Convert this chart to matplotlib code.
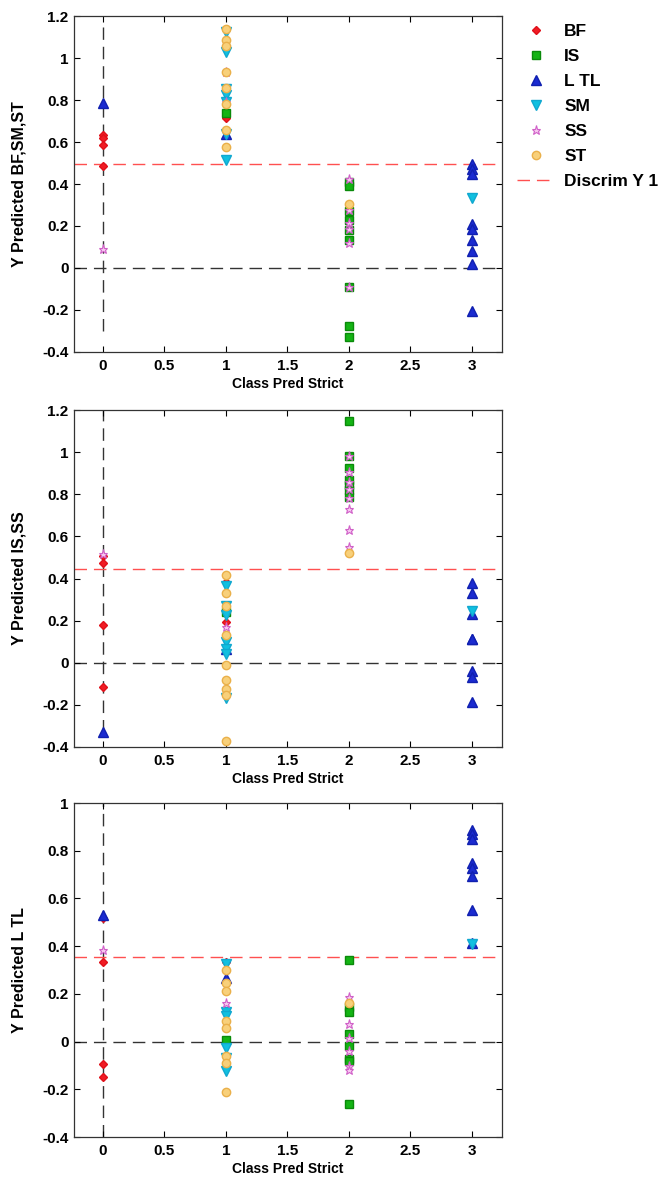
import matplotlib
matplotlib.use("Agg")
import matplotlib.pyplot as plt

plt.rcParams['font.family'] = ['Liberation Sans', 'DejaVu Sans']
plt.rcParams['font.weight'] = 'bold'

classes = ["BF", "IS", "LTL", "SM", "SS", "ST"]
legend_names = ["BF", "IS", "L TL", "SM", "SS", "ST"]

# panel 1: Y Predicted BF,SM,ST  -> {class: (x list, y list)}
p1 = {
    "BF": ([0, 0, 0, 0, 1], [0.632, 0.621, 0.585, 0.488, 0.716]),
    "IS": ([1, 2, 2, 2, 2, 2, 2, 2, 2, 2],
           [0.738, 0.41, 0.389, 0.271, 0.227, 0.18, 0.132, -0.09, -0.278, -0.329]),
    "LTL": ([0, 1, 3, 3, 3, 3, 3, 3, 3, 3, 3],
            [0.787, 0.64, 0.497, 0.473, 0.449, 0.211, 0.187, 0.135, 0.081, 0.021, -0.205]),
    "SM": ([1, 1, 1, 1, 1, 1, 1, 3],
           [1.124, 1.029, 0.854, 0.822, 0.79, 0.64, 0.513, 0.335]),
    "SS": ([0, 1, 1, 2, 2, 2, 2, 2, 2],
           [0.092, 0.933, 0.79, 0.425, 0.275, 0.214, 0.187, 0.119, -0.09]),
    "ST": ([1, 1, 1, 1, 1, 1, 1, 1, 2],
           [1.14, 1.087, 1.057, 0.933, 0.857, 0.783, 0.659, 0.575, 0.306]),
}

# panel 2: Y Predicted IS,SS
p2 = {
    "BF": ([0, 0, 0, 0, 1, 1], [0.508, 0.475, 0.178, -0.117, 0.384, 0.194]),
    "IS": ([1, 2, 2, 2, 2, 2, 2, 2],
           [0.241, 1.149, 0.984, 0.927, 0.868, 0.844, 0.82, 0.789]),
    "LTL": ([0, 1, 3, 3, 3, 3, 3, 3, 3, 3],
            [-0.33, 0.067, 0.381, 0.333, 0.233, 0.114, 0.111, -0.037, -0.068, -0.187]),
    "SM": ([1, 1, 1, 1, 1, 1, 1, 3],
           [0.365, 0.27, 0.225, 0.098, 0.067, 0.043, -0.168, 0.244]),
    "SS": ([0, 1, 2, 2, 2, 2, 2, 2, 2, 2],
           [0.517, 0.17, 0.984, 0.905, 0.86, 0.825, 0.781, 0.73, 0.63, 0.551]),
    "ST": ([1, 1, 1, 1, 1, 1, 1, 1, 1, 2],
           [0.416, 0.332, 0.27, 0.13, -0.01, -0.084, -0.127, -0.155, -0.37, 0.521]),
}

# panel 3: Y Predicted LTL
p3 = {
    "BF": ([0, 0, 0, 0, 1, 1], [0.52, 0.334, -0.095, -0.147, 0.335, 0.0]),
    "IS": ([1, 2, 2, 2, 2, 2, 2, 2, 2],
           [0.006, 0.341, 0.145, 0.126, 0.031, -0.018, -0.074, -0.081, -0.263]),
    "LTL": ([0, 1, 3, 3, 3, 3, 3, 3, 3, 3],
            [0.529, 0.268, 0.885, 0.869, 0.848, 0.75, 0.729, 0.694, 0.55, 0.415]),
    "SM": ([1, 1, 1, 1, 1, 1, 3],
           [0.324, 0.122, 0.108, -0.025, -0.067, -0.123, 0.41]),
    "SS": ([0, 1, 2, 2, 2, 2, 2, 2],
           [0.383, 0.163, 0.187, 0.073, 0.017, -0.039, -0.102, -0.12]),
    "ST": ([1, 1, 1, 1, 1, 1, 1, 1, 2],
           [0.299, 0.247, 0.212, 0.087, 0.056, -0.06, -0.088, -0.21, 0.163]),
}

panels = [p1, p2, p3]
ylabels = ["Y Predicted BF,SM,ST", "Y Predicted IS,SS", "Y Predicted L TL"]
discrim = [0.495, 0.445, 0.354]
ylims = [(-0.4, 1.2), (-0.4, 1.2), (-0.4, 1.0)]
yticks = [[-0.4, -0.2, 0, 0.2, 0.4, 0.6, 0.8, 1, 1.2],
          [-0.4, -0.2, 0, 0.2, 0.4, 0.6, 0.8, 1, 1.2],
          [-0.4, -0.2, 0, 0.2, 0.4, 0.6, 0.8, 1]]
vline_span = [(1.15, -0.3), (1.2, -0.33), (1.0, -0.4)]
xticks = [0, 0.5, 1, 1.5, 2, 2.5, 3]
xticklabels = ["0", "0.5", "1", "1.5", "2", "2.5", "3"]

styles = {
    "BF": dict(marker="D", ms=4.5, mfc="#f01c24", mec="#e0101a"),
    "IS": dict(marker="s", ms=5.5, mfc="#14b414", mec="#0a8a0a"),
    "LTL": dict(marker="^", ms=6.5, mfc="#1b2bd0", mec="#1020b0"),
    "SM": dict(marker="v", ms=6.5, mfc="#10c0e0", mec="#10a8d0"),
    "SS": dict(marker="*", ms=6.5, mfc="#f7c8f0", mec="#d060c8", mew=0.8),
    "ST": dict(marker="o", ms=6, mfc="#f8d07a", mec="#eab04a"),
}

fig = plt.figure(figsize=(6.67, 11.78), dpi=100)
boxes = [[0.111, 0.7012, 0.642, 0.2852],
         [0.111, 0.3659, 0.642, 0.2860],
         [0.111, 0.0348, 0.642, 0.2835]]

for i, data in enumerate(panels):
    ax = fig.add_axes(boxes[i])
    lo, hi = ylims[i]
    top, bot = vline_span[i]
    ax.plot([0, 0], [bot, top], color="#333333", lw=1, dashes=(9, 5), zorder=1)
    ax.axhline(0, color="#333333", lw=1, dashes=(9, 5), zorder=1)
    ax.axhline(discrim[i], color="#ff5050", lw=1, dashes=(9, 5), zorder=1,
               label="Discrim Y 1")
    for c, name in zip(classes, legend_names):
        xs, ys = data[c]
        ax.plot(xs, ys, ls="none", label=name, zorder=3, **styles[c])
    ax.set_xlim(-0.233, 3.246)
    ax.set_ylim(lo, hi)
    ax.set_xticks(xticks)
    ax.set_xticklabels(xticklabels)
    ax.set_yticks(yticks[i])
    ax.set_yticklabels([("%g" % t) for t in yticks[i]])
    ax.tick_params(direction="in", top=True, right=True, length=4,
                   labelsize=11, width=0.8)
    ax.tick_params(axis="x", pad=5)
    ax.tick_params(axis="y", pad=4)
    for s in ax.spines.values():
        s.set_color("#333333")
        s.set_linewidth(0.9)
    ax.set_xlabel("Class Pred Strict", fontsize=10, fontweight="bold")
    ax.set_ylabel(ylabels[i], fontsize=11.5, fontweight="bold")
    ax.xaxis.set_label_coords(0.5, -0.075)
    ax.yaxis.set_label_coords(-0.11, 0.5)
    if i == 0:
        h, l = ax.get_legend_handles_labels()
        h = h[1:] + h[:1]
        l = l[1:] + l[:1]
        fig.legend(h, l, loc="upper left", bbox_to_anchor=(0.752, 0.993),
                   frameon=False, fontsize=12.5, handlelength=2.2,
                   labelspacing=0.57, handletextpad=0.5)

fig.savefig("out.png", dpi=100)
